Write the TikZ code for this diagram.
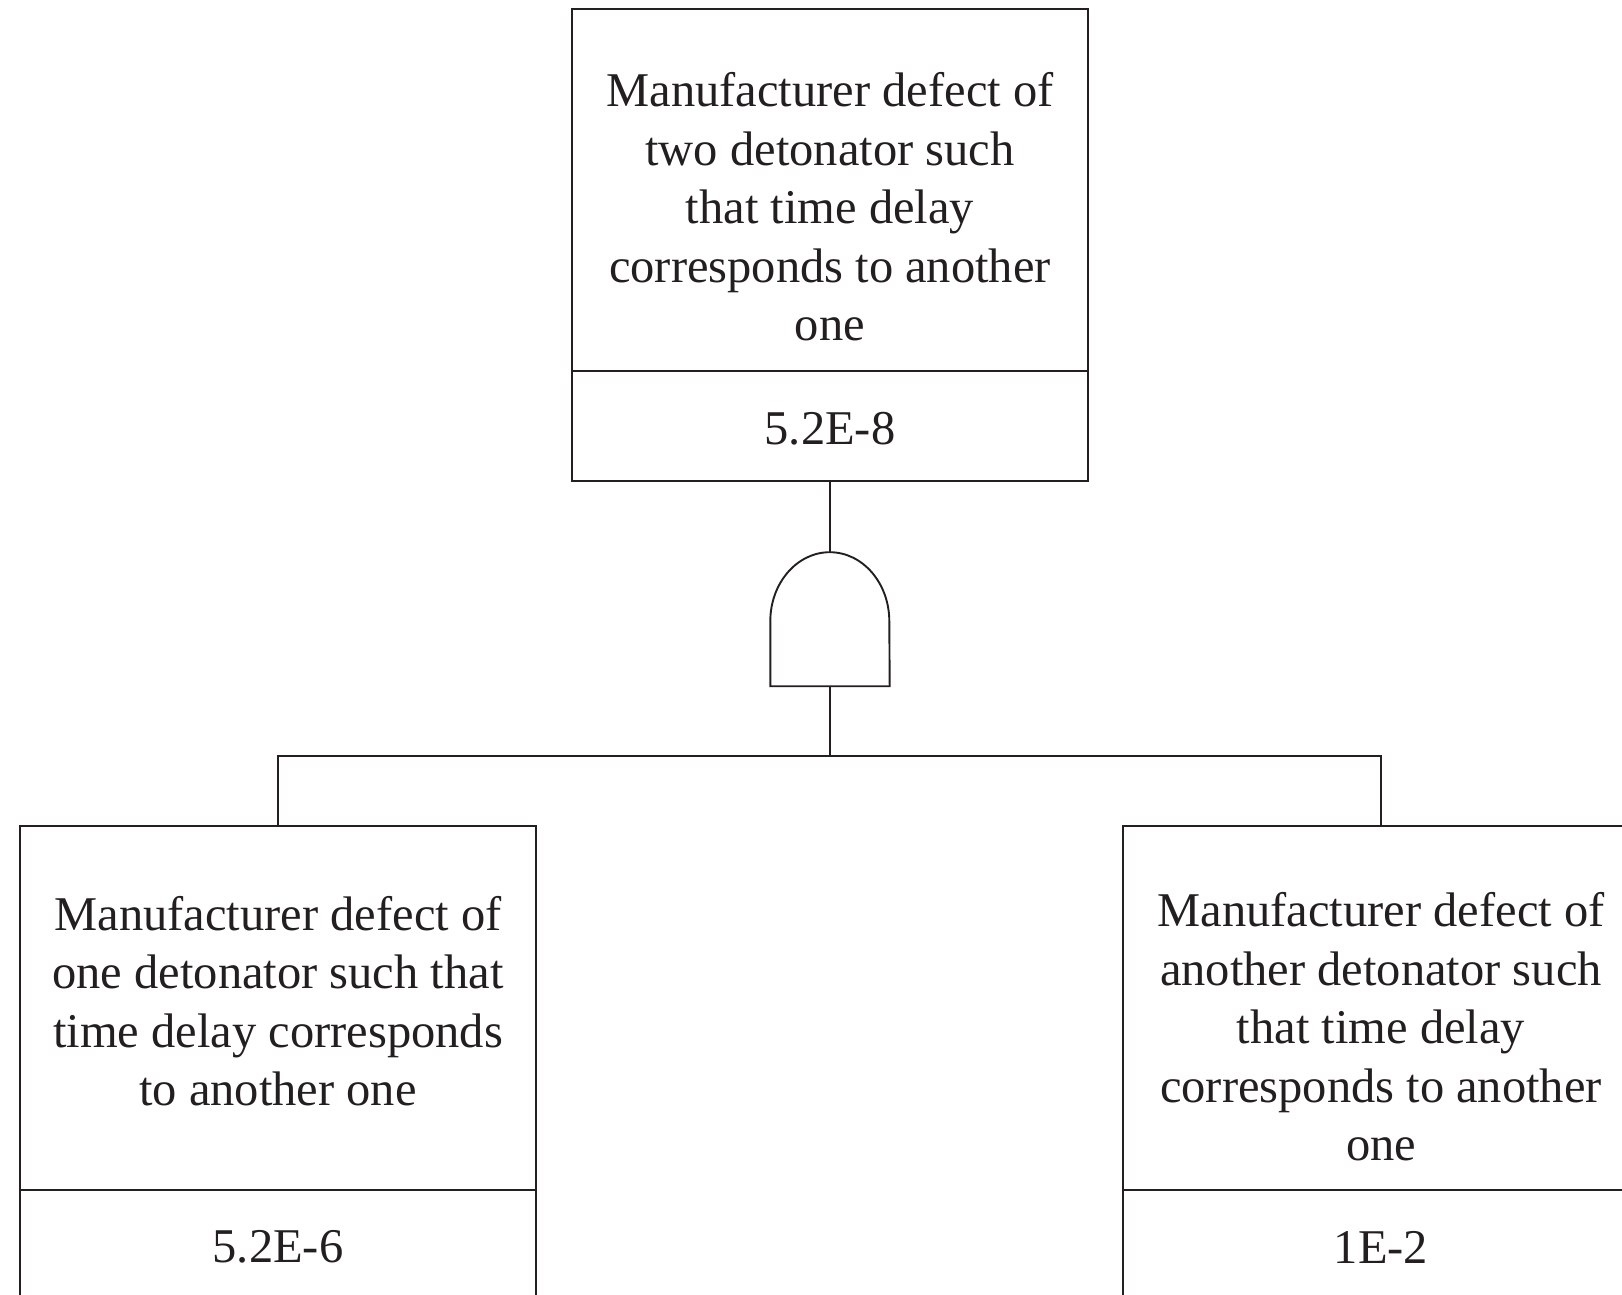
\documentclass[tikz,border=0pt]{standalone}
\usepackage{fontspec}
\setmainfont{Liberation Serif}
\definecolor{ink}{RGB}{35,31,32}
\begin{document}
\begin{tikzpicture}[x=1pt,y=-1pt,
  part/.style={draw=ink,line width=1.9pt,rectangle,minimum width=516pt,inner sep=0pt},
  txt/.style={text=ink,align=center,inner sep=0pt,font=\fontsize{48.5}{58.5}\selectfont},
  wire/.style={draw=ink,line width=2.1pt}]
\useasboundingbox (0,0) rectangle (1622,1295);
% top event
\node[part,minimum height=362pt] (topdesc) at (830,190) {};
\node[part,minimum height=110pt] (topval) at (830,426) {};
\node[txt] (toptext) at (830,207) {Manufacturer defect of\\two detonator such\\that time delay\\corresponds to another\\one};
\node[txt] (topnum) at (830,429) {5.2E-8};
% gate
\node[minimum width=119pt,minimum height=134pt,inner sep=0pt] (gate) at (830,619) {};
\draw[draw=ink,line width=1.9pt] (gate.south west) -- ++(0,-65)
  arc[start angle=180,end angle=360,x radius=59.5,y radius=69] -- (gate.south east) -- cycle;
% bottom left
\node[part,minimum height=364pt] (leftdesc) at (278,1008) {};
\node[part,minimum height=130pt] (leftval) at (278,1255) {};
\node[txt] (lefttext) at (278,1001) {Manufacturer defect of\\one detonator such that\\time delay corresponds\\to another one};
\node[txt] (leftnum) at (278,1247) {5.2E-6};
% bottom right
\node[part,minimum height=364pt] (rightdesc) at (1381,1008) {};
\node[part,minimum height=130pt] (rightval) at (1381,1255) {};
\node[txt] (righttext) at (1381,1027) {Manufacturer defect of\\another detonator such\\that time delay\\corresponds to another\\one};
\node[txt] (rightnum) at (1381,1247) {1E-2};
% connectors
\coordinate (bus) at (830,756);
\draw[wire] (topval.south) -- (gate.north);
\draw[wire] (gate.south) -- (bus);
\draw[wire] (leftdesc.north) |- (bus) -| (rightdesc.north);
\end{tikzpicture}
\end{document}
